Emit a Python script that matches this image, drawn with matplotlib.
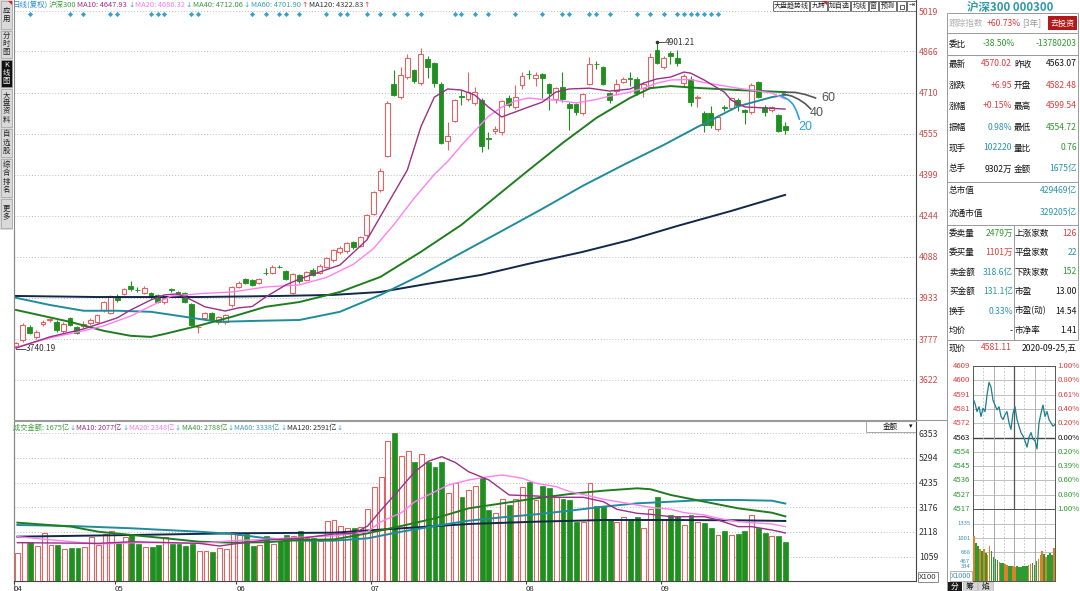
import numpy as np
import matplotlib
matplotlib.use('Agg')
import matplotlib.pyplot as plt
from matplotlib.patches import Rectangle, Polygon
from matplotlib import transforms

plt.rcParams['font.family'] = ['Liberation Sans Narrow', 'Noto Sans CJK SC', 'DejaVu Sans']
plt.rcParams['axes.unicode_minus'] = False

# ---------------- data (CSI 300 daily, 2020-04 .. 2020-09-25) ----------------
opens = [3752,3775,3823,3783,3835,3850,3842,3808,3857,3823,
         3828,3838,3842,3887,3876,3940,3948,3978,3964,3951,
         3951,3944,3917,3965,3955,3951,3910,3822,3857,3876,
         3842,3842,3906,3974,4004,4000,3989,4028,4027,4051,
         4035,3951,4019,4000,4040,4027,4050,4075,4105,4110,
         4145,4130,4170,4250,4340,4470,4743,4693,4769,4796,
         4746,4837,4822,4743,4527,4603,4697,4686,4671,4682,
         4538,4565,4561,4690,4656,4739,4782,4765,4780,4743,
         4686,4731,4667,4667,4633,4743,4819,4807,4710,4716,
         4752,4765,4760,4727,4731,4871,4808,4860,4843,4746,
         4762,4690,4633,4633,4572,4656,4652,4682,4644,4637,
         4750,4656,4644,4625,4582.48]
closes = [3760,3830,3800,3804,3841,3853,3811,3834,3830,3800,
          3834,3849,3868,3917,3940,3925,3966,3966,3962,3970,
          3936,3917,3932,3962,3944,3917,3830,3824,3876,3849,
          3861,3868,3974,3989,3989,3982,4004,4026,4050,4049,
          4004,4023,3995,4031,4019,4054,4084,4114,4122,4140,
          4125,4163,4247,4332,4414,4671,4701,4777,4841,4754,
          4856,4807,4746,4519,4546,4682,4693,4712,4712,4508,
          4536,4572,4678,4663,4693,4773,4780,4777,4765,4709,
          4727,4686,4652,4637,4705,4818,4817,4743,4682,4743,
          4760,4762,4708,4743,4845,4822,4843,4850,4822,4773,
          4674,4693,4587,4587,4618,4652,4690,4663,4637,4739,
          4693,4637,4656,4563.07,4570.02]
highs = [3766,3836,3830,3811,3848,3858,3848,3840,3862,3826,
         3845,3855,3872,3921,3944,3946,3972,3995,3975,3978,
         3955,3948,3940,3970,3960,3955,3912,3830,3880,3880,
         3866,3873,3978,3995,4008,4003,4008,4045,4058,4056,
         4038,4027,4025,4036,4045,4060,4088,4118,4128,4146,
         4150,4168,4250,4338,4425,4680,4796,4807,4856,4800,
         4878,4850,4826,4750,4599,4686,4720,4788,4730,4690,
         4560,4585,4682,4700,4739,4790,4795,4790,4786,4746,
         4731,4788,4675,4672,4709,4845,4830,4812,4714,4760,
         4770,4790,4770,4750,4860,4901.21,4850,4866,4870,4780,
         4775,4700,4640,4660,4625,4665,4695,4690,4650,4745,
         4755,4665,4660,4630,4599.54]
lows = [3740.19,3766,3795,3776,3828,3842,3805,3800,3825,3795,
        3820,3830,3838,3880,3872,3918,3944,3960,3955,3946,
        3930,3912,3910,3955,3940,3912,3825,3800,3850,3845,
        3832,3835,3900,3970,3984,3978,3985,4020,4022,4045,
        4000,3946,3990,3996,4015,4022,4045,4070,4098,4104,
        4118,4126,4165,4245,4335,4465,4697,4685,4760,4748,
        4740,4765,4730,4515,4493,4598,4663,4680,4665,4485,
        4495,4555,4550,4655,4650,4725,4760,4735,4690,4644,
        4670,4675,4568,4625,4625,4740,4800,4740,4670,4700,
        4745,4735,4700,4695,4728,4818,4800,4820,4810,4735,
        4660,4655,4560,4575,4565,4640,4645,4640,4590,4630,
        4690,4620,4635,4560,4554.72]
amounts = [1231,1702,1702,1517,2062,1560,1560,1376,1445,1430,
           1474,1890,1560,2032,2160,1633,1890,1989,1603,1474,
           1474,1560,1890,1603,1589,1517,1618,1303,1289,1246,
           1430,1388,2105,1989,2018,1517,1560,1946,1603,1747,
           1989,1946,2160,1848,1848,1747,2589,2632,2375,2276,
           2276,2319,3091,4034,4463,6019,6375,5376,5590,5132,
           5461,5132,4891,5132,3777,4231,3605,3918,4075,4419,
           3061,2946,3532,3275,3532,4034,4274,3490,4090,3991,
           3605,3532,3490,2560,2560,4205,3232,3232,2662,2560,
           2748,2662,2774,2276,3091,3605,2662,2847,2803,2418,
           2847,2532,2490,2303,1989,2160,1989,2018,2175,2847,
           2276,2062,1946,1946,1675]

month_labels = ['04', '05', '06', '07', '08', '09']
month_starts = [0, 15, 33, 53, 76, 96]

price_ticks = [5019, 4866, 4710, 4555, 4399, 4244, 4088, 3933, 3777, 3622]
amount_ticks = [6353, 5294, 4235, 3176, 2118, 1059]

ma10_idx = [0,5,10,15,17,20,22,24,26,28,31,33,35,37,40,42,48,52,55,58,60,62,64,66,68,70,72,74,76,78,80,82,85,88,91,93,95,97,99,100,102,105,106,108,111,114]
ma10_val = [3743,3785,3815,3857,3887,3925,3944,3948,3925,3899,3883,3895,3900,3936,3982,4004,4057,4152,4285,4417,4580,4693,4724,4720,4701,4656,4618,4637,4656,4674,4712,4724,4727,4716,4724,4746,4762,4769,4788,4784,4758,4712,4682,4656,4652,4647.93]
ma20_idx = [0,5,10,13,17,23,28,32,37,42,46,50,53,56,59,62,64,66,68,70,72,74,76,78,80,83,86,88,91,93,95,97,100,102,107,112,114]
ma20_val = [3745,3781,3808,3827,3864,3940,3950,3955,3974,3982,4010,4060,4120,4210,4310,4400,4450,4510,4565,4620,4655,4678,4690,4684,4682,4671,4684,4697,4712,4727,4746,4758,4760,4748,4727,4709,4686.32]
ma40_idx = [0,8,13,17,20,22,27,32,37,42,48,54,60,66,72,76,81,86,91,94,97,101,107,114]
ma40_val = [3887,3842,3808,3789,3785,3796,3827,3861,3899,3917,3955,4012,4107,4209,4334,4417,4519,4614,4690,4727,4735,4728,4720,4712.06]
ma60_idx = [0,5,10,15,20,24,30,36,42,48,54,60,66,72,78,84,90,96,101,107,112,114]
ma60_val = [3933,3906,3884,3884,3880,3865,3842,3846,3849,3880,3944,4019,4103,4186,4270,4357,4436,4512,4580,4658,4693,4701.90]
ma120_idx = [0,12,27,39,47,54,61,69,76,84,91,98,106,114]
ma120_val = [3940,3936,3936,3940,3944,3955,3986,4020,4062,4107,4152,4205,4262,4322.83]

proj60_idx = [114, 115.5, 117, 118.5]
proj60_val = [4712, 4711, 4703, 4690]
proj40_idx = [113.7, 115, 116, 117, 117.8]
proj40_val = [4705, 4697, 4685, 4668, 4648]
proj20_idx = [113.5, 114.5, 115.2, 115.7, 116.1]
proj20_val = [4697, 4683, 4665, 4640, 4610]

vma10_idx = [0,12,17,27,30,32,37,42,47,50,52,54,56,59,61,63,65,67,70,72,73,77,80,84,87,89,92,94,97,102,104,107,109,112,114]
vma10_val = [1660,1630,1700,1630,1517,1600,1775,1848,2032,2060,2375,3061,3704,4703,5150,5346,5100,4700,4347,3918,3704,3661,3605,3605,3417,3091,2919,2876,2774,2774,2632,2347,2347,2203,2077]
vma20_idx = [0,8,12,17,22,27,32,37,42,47,52,54,57,59,62,64,67,70,72,75,77,80,82,85,87,90,92,94,97,99,102,104,107,109,112,114]
vma20_val = [1918,1702,1603,1660,1660,1630,1746,1800,1890,1950,2131,2560,2946,3417,3847,4133,4347,4490,4561,4420,4205,4061,3847,3661,3519,3375,3275,3175,3091,2946,2847,2705,2560,2518,2461,2348]
vma40_idx = [0,8,12,17,22,27,32,37,42,47,52,57,62,67,72,77,82,87,92,94,97,102,107,112,114]
vma40_val = [2518,2347,2131,1989,1848,1702,1660,1680,1775,1800,2062,2375,2705,3133,3347,3562,3747,3889,3991,3950,3704,3417,3133,2946,2788]
vma60_idx = [0,8,17,27,32,37,42,47,52,57,62,67,72,77,82,87,92,97,102,107,112,114]
vma60_val = [2418,2375,2276,2131,2032,1848,1746,1746,1848,2131,2375,2603,2748,2876,3032,3204,3347,3417,3490,3490,3460,3338]
vma120_idx = [0,17,32,47,57,67,77,87,97,107,114]
vma120_val = [1918,1989,2062,2089,2276,2461,2560,2632,2632,2620,2591]

signal_idx = [2,8,10,14,15,20,21,22,26,27,35,37,39,40,42,46,48,49,52,54,56,58,60,65,66,68,70,74,78,81,82,85,86,88,92,94,96,98,99,100,101,102,103,104]

intraday_price = [4587.9,4584.8,4579.6,4582.7,4576.5,4581.7,4579.6,4590.0,4598.3,4595.2,
                  4586.9,4583.8,4580.7,4582.7,4576.5,4574.5,4577.6,4579.6,4572.4,4568.2,
                  4578.6,4582.7,4574.5,4570.3,4566.2,4564.1,4561.0,4556.9,4563.1,4566.2,
                  4562.0,4561.0,4555.8,4572.4,4578.6,4583.8,4576.5,4579.6,4574.5,4572.4,
                  4570.3,4571.4]
intraday_vol = [1050,880,820,760,700,760,650,600,820,700,560,520,480,450,430,420,400,380,360,350,
                340,330,340,320,330,350,360,340,380,400,420,380,460,520,600,700,640,560,600,650,620,780]
prev_close = 4563.07
mini_left_labels = ['4609','4600','4591','4581','4572','4563','4554','4545','4536','4527','4517']
mini_right_labels = ['1.00%','0.80%','0.61%','0.40%','0.20%','0.00%','0.20%','0.39%','0.60%','0.80%','1.00%']
mini_vol_ticks = [1335, 1001, 668, 467, 334]

RED = '#e03c3c'; GREEN = '#2e9a2e'; TEAL = '#2a95a8'; BLACK = '#111111'
info_rows = [('最新', '4570.02', RED, '昨收', '4563.07', BLACK),
             ('涨跌', '+6.95', RED, '开盘', '4582.48', RED),
             ('涨幅', '+0.15%', RED, '最高', '4599.54', RED),
             ('振幅', '0.98%', TEAL, '最低', '4554.72', GREEN),
             ('现手', '102220', TEAL, '量比', '0.76', GREEN),
             ('总手', '9302万', BLACK, '金额', '1675亿', TEAL)]
cap_rows = [('总市值', '429469亿'), ('流通市值', '329205亿')]
sec2_rows = [('委卖量', '2479万', GREEN, '上涨家数', '126', RED),
             ('委买量', '1101万', RED, '平盘家数', '22', TEAL),
             ('卖金额', '318.6亿', TEAL, '下跌家数', '152', GREEN),
             ('买金额', '131.1亿', TEAL, '市盈', '13.00', BLACK),
             ('换手', '0.33%', TEAL, '市盈(动)', '14.54', BLACK),
             ('均价', '-', BLACK, '市净率', '1.41', BLACK)]

# ---------------- figure ----------------
W, H = 1080, 591
fig = plt.figure(figsize=(W / 100, H / 100), dpi=100)
fig.patch.set_facecolor('white')
renderer = fig.canvas.get_renderer()

bg = fig.add_axes([0, 0, 1, 1], zorder=-1)
bg.set_xlim(0, W); bg.set_ylim(H, 0); bg.axis('off')


def T(x, y, s, **kw):
    kw.setdefault('fontsize', 6.2); kw.setdefault('va', 'center'); kw.setdefault('color', BLACK)
    return bg.text(x, y, s, **kw)


def seq(x, y, parts, fontsize, gap=1.0):
    for s, col, fam in parts:
        kw = dict(color=col, fontsize=fontsize)
        if fam:
            kw['family'] = fam
        t = T(x, y, s, **kw)
        x += t.get_window_extent(renderer).width + gap
    return x


def L(x0, y0, x1, y1, **kw):
    kw.setdefault('color', '#8a8a8a'); kw.setdefault('lw', 0.8)
    bg.plot([x0, x1], [y0, y1], solid_capstyle='butt', **kw)


def R(x0, y0, x1, y1, **kw):
    bg.add_patch(Rectangle((x0, y0), x1 - x0, y1 - y0, **kw))


def ax_px(x0, y0, x1, y1):
    a = fig.add_axes([x0 / W, 1 - y1 / H, (x1 - x0) / W, (y1 - y0) / H])
    a.set_facecolor('none')
    return a


UPC = '#e06464'; DNC = '#1f8f1f'
C10 = '#9b2f8a'; C20 = '#ff80f2'; C40 = '#1f7d1f'; C60 = '#1f8c9c'; C120 = '#10284a'

n = len(closes)
xi = np.arange(n)
o = np.array(opens, float); c = np.array(closes, float)
h = np.array(highs, float); l = np.array(lows, float)
up = c >= o
blo = np.minimum(o, c); bhi = np.maximum(o, c)
cols = np.where(up, UPC, DNC)

# ---- main price panel ----
ax = ax_px(14, 0, 916, 419)
ax.set_xlim(-0.3, 133.4)
ax.set_ylim(3474, 5061)
ax.vlines(xi, l, blo, colors=cols, lw=0.8, zorder=3)
ax.vlines(xi, bhi, h, colors=cols, lw=0.8, zorder=3)
ax.bar(xi[up], (bhi - blo)[up], bottom=blo[up], width=0.72, fc='white', ec=UPC, lw=0.8, zorder=3)
ax.bar(xi[~up], np.maximum((bhi - blo)[~up], 1.0), bottom=blo[~up], width=0.72, fc=DNC, ec=DNC, lw=0.6, zorder=3)

ax.plot(ma120_idx, ma120_val, color=C120, lw=1.4, zorder=4)
ax.plot(ma60_idx, ma60_val, color=C60, lw=1.4, zorder=4)
ax.plot(ma40_idx, ma40_val, color=C40, lw=1.4, zorder=4)
ax.plot(ma20_idx, ma20_val, color=C20, lw=1.0, zorder=4)
ax.plot(ma10_idx, ma10_val, color=C10, lw=1.0, zorder=4)

ax.plot(proj60_idx, proj60_val, color='#555555', lw=1.2, zorder=4)
ax.plot(proj40_idx, proj40_val, color='#555555', lw=1.2, zorder=4)
ax.plot(proj20_idx, proj20_val, color='#2a9fe6', lw=1.2, zorder=4)
ax.text(proj60_idx[-1] + 0.8, proj60_val[-1], '60', fontsize=9, color='#555555', va='center',
        family=['Liberation Sans', 'DejaVu Sans'])
ax.text(proj40_idx[-1] - 0.2, proj40_val[-1] - 14, '40', fontsize=9, color='#555555', va='center',
        family=['Liberation Sans', 'DejaVu Sans'])
ax.text(proj20_idx[-1] - 0.2, proj20_val[-1] - 30, '20', fontsize=9, color='#2a9fe6', va='center',
        family=['Liberation Sans', 'DejaVu Sans'])

imax = int(np.argmax(h)); imin = int(np.argmin(l))
ax.plot([imax, imax + 1.0], [h[imax], h[imax]], color='#333333', lw=0.6, zorder=5)
ax.plot([imax], [h[imax]], marker='o', ms=1.6, color='#333333', zorder=5)
ax.text(imax + 1.1, h[imax], f'{h[imax]:.2f}', fontsize=6, color='#333333', va='center')
ax.plot([imin, imin + 1.3], [l[imin], l[imin]], color='#333333', lw=0.6, zorder=5)
ax.text(imin + 1.4, l[imin], f'{l[imin]:.2f}', fontsize=6, color='#333333', va='center')

blend = transforms.blended_transform_factory(ax.transData, ax.transAxes)
ax.scatter(signal_idx, [1 - 14 / 419] * len(signal_idx), transform=blend, marker='D', s=7,
           color='#3aa0cc', zorder=5, clip_on=False, linewidths=0)

ax.set_xticks([])
ax.yaxis.tick_right()
ax.set_yticks(price_ticks)
ax.set_yticklabels([str(t) for t in price_ticks])
ax.tick_params(axis='y', length=0, pad=2, labelsize=6.3, labelcolor='#c84c48')
ax.grid(axis='y', ls=(0, (1, 2)), color='#bcbcbc', lw=0.7)
ax.set_axisbelow(True)
for s in ['top', 'bottom']:
    ax.spines[s].set_visible(False)
ax.spines['left'].set_color('#8a8a8a')
ax.spines['right'].set_color('#444444')

# ---- amount panel ----
ax2 = ax_px(14, 421, 916, 581.4)
ax2.set_xlim(-0.3, 133.4)
ax2.set_ylim(0, 6876)
a = np.array(amounts, float)
ax2.bar(xi[up], a[up], width=0.72, fc='white', ec=UPC, lw=0.8, zorder=3)
ax2.bar(xi[~up], a[~up], width=0.72, fc=DNC, ec=DNC, lw=0.5, zorder=3)
ax2.plot(vma120_idx, vma120_val, color=C120, lw=1.4, zorder=4)
ax2.plot(vma60_idx, vma60_val, color=C60, lw=1.4, zorder=4)
ax2.plot(vma40_idx, vma40_val, color=C40, lw=1.4, zorder=4)
ax2.plot(vma20_idx, vma20_val, color=C20, lw=1.0, zorder=4)
ax2.plot(vma10_idx, vma10_val, color=C10, lw=1.0, zorder=4)
ax2.yaxis.tick_right()
ax2.set_yticks(amount_ticks)
ax2.set_yticklabels([str(t) for t in amount_ticks])
ax2.tick_params(axis='y', length=0, pad=2, labelsize=6.3, labelcolor='#333333')
ax2.set_xticks(np.array(month_starts) - 0.5)
ax2.set_xticklabels(month_labels)
for lab in ax2.get_xticklabels():
    lab.set_ha('left')
ax2.tick_params(axis='x', length=2, pad=0.5, labelsize=5.6, color='#444444', labelcolor='#222222')
ax2.grid(axis='y', ls=(0, (1, 2)), color='#bcbcbc', lw=0.7)
ax2.set_axisbelow(True)
ax2.spines['top'].set_color('#9a9a9a')
ax2.spines['left'].set_color('#8a8a8a')
ax2.spines['right'].set_color('#444444')
ax2.spines['bottom'].set_color('#444444')

# ---- legends ----
DV = ['DejaVu Sans']
seq(13, 5, [('日线(复权)', '#2a8ad4', None), ('沪深300', '#3d9b3d', None),
            (f'MA10: {ma10_val[-1]:.2f}', C10, None), ('↓', '#39a7c8', DV),
            (f'MA20: {ma20_val[-1]:.2f}', '#f07ef0', None), ('↓', '#39a7c8', DV),
            (f'MA40: {ma40_val[-1]:.2f}', '#3b9b3b', None), ('↓', '#39a7c8', DV),
            (f'MA60: {ma60_val[-1]:.2f}', '#3f9fb0', None), ('↑', '#e04040', DV),
            (f'MA120: {ma120_val[-1]:.2f}', '#333333', None), ('↑', '#e04040', DV)], 5.4, gap=0.8)
seq(13, 428, [(f'成交金额: {amounts[-1]}亿', '#3d9b3d', None), ('↓', '#39a7c8', DV),
              (f'MA10: {vma10_val[-1]}亿', C10, None), ('↓', '#39a7c8', DV),
              (f'MA20: {vma20_val[-1]}亿', '#f07ef0', None), ('↓', '#39a7c8', DV),
              (f'MA40: {vma40_val[-1]}亿', '#3b9b3b', None), ('↓', '#39a7c8', DV),
              (f'MA60: {vma60_val[-1]}亿', '#3f9fb0', None), ('↓', '#39a7c8', DV),
              (f'MA120: {vma120_val[-1]}亿', '#333333', None), ('↓', '#39a7c8', DV)], 5.2, gap=0.6)

R(866, 421, 916, 432, fc='white', ec='#9a9a9a', lw=0.6)
T(890, 426.5, '金额', fontsize=5.4, ha='center')
T(911, 426.5, '▾', fontsize=5, ha='center', family=DV)
T(919, 577, 'X100', fontsize=5.6, color='#333333',
  bbox=dict(boxstyle='square,pad=0.15', fc='white', ec='#777777', lw=0.6))

# ---- top-right buttons ----
buttons = [('大盘趋势线', 773, 809), ('九转', 810, 827), ('加自选', 828, 850), ('均线', 851, 868),
           ('窗', 869, 878), ('预测', 879, 896), ('', 897, 906), ('⇥', 907, 916)]
for lab, x0, x1 in buttons:
    R(x0, 0.5, x1, 11, fc='white', ec='#555555', lw=0.6)
    if lab:
        T((x0 + x1) / 2, 6, lab, fontsize=5, ha='center', color='#222222')
bg.add_patch(Polygon([(822, 0.5), (827, 0.5), (827, 5)], closed=True, fc='#e02020', ec='none'))
R(899.5, 5, 903.5, 9, fc='none', ec='#444444', lw=0.6)

# ---- left sidebar ----
R(0, 0, 12.5, 230, fc='#d9d9d9', ec='none')
tabs = [('应用', 0, 29, '#d9d9d9', '#111111'), ('分时图', 30, 58, '#d9d9d9', '#222222'),
        ('K线图', 59, 87, '#111111', '#ffffff'), ('大盘资料', 88, 127, '#d9d9d9', '#222222'),
        ('自选股', 128, 157, '#d9d9d9', '#222222'), ('综合排名', 158, 197, '#d9d9d9', '#222222'),
        ('更多', 198, 228, '#d9d9d9', '#222222')]
for lab, y0, y1, fc, tc in tabs:
    R(0.5, y0 + 0.5, 12, y1, fc=fc, ec='#a0a0a0', lw=0.5)
    T(6.3, (y0 + y1) / 2, '\n'.join(lab), fontsize=5.3, ha='center', color=tc, linespacing=1.05)
bg.add_patch(Polygon([(8, 0.5), (12, 0.5), (12, 4.5)], closed=True, fc='#e02020', ec='none'))
L(13.5, 230, 13.5, 591, color='#8a8a8a')
L(14, 420, 947, 420, color='#9a9a9a')

# ---- right info panel ----
T(1010, 7, '沪深300 000300', ha='center', color='#2f9aaa', fontsize=8.3, fontweight='bold')
for yy in [13, 33, 55, 182, 225, 340]:
    L(947, yy, 1078, yy, color='#9a9a9a', lw=0.7)
L(947, 13, 947, 591, color='#9a9a9a', lw=0.7)
L(1078, 13, 1078, 340, color='#9a9a9a', lw=0.7)
L(1014, 225, 1014, 340, color='#9a9a9a', lw=0.7)

T(949, 23, '跟踪指数', color='#b0b0b0')
T(987, 23, '+60.73%', color=RED)
T(1022, 23, '[3年]', color='#999999')
R(1048, 16, 1077, 30, fc='#b51818', ec='none')
T(1062.5, 23, '去投资', color='white', ha='center', fontsize=5.8)
T(949, 44, '委比')
T(983, 44, '-38.50%', color=GREEN)
T(1077, 44, '-13780203', color=GREEN, ha='right')
for k, (l1, v1, c1, l2, v2, c2) in enumerate(info_rows):
    yy = 64 + 21 * k
    T(949, yy, l1); T(1012, yy, v1, color=c1, ha='right')
    T(1014, yy, l2); T(1077, yy, v2, color=c2, ha='right')
for k, (l1, v1) in enumerate(cap_rows):
    yy = 191 + 22 * k
    T(949, yy, l1); T(1077, yy, v1, color=TEAL, ha='right')
for k, (l1, v1, c1, l2, v2, c2) in enumerate(sec2_rows):
    yy = 233 + 19.5 * k
    T(949, yy, l1); T(1013, yy, v1, color=c1, ha='right')
    T(1015, yy, l2); T(1077, yy, v2, color=c2, ha='right')
T(949, 348, '现价')
T(1012, 348, '4581.11', color=RED, ha='right')
T(1077, 348, '2020-09-25,五', ha='right')

# ---- mini intraday chart ----
lo, hi = prev_close * 0.99, prev_close * 1.01
mp = ax_px(973, 366, 1055, 509)
m = len(intraday_price)
mp.set_xlim(0, m - 1); mp.set_ylim(lo, hi)
levels = np.linspace(hi, lo, 11)
for k, lv in enumerate(levels):
    mp.axhline(lv, color='#444444' if k == 5 else '#b5b5b5', lw=1.0 if k == 5 else 0.6, zorder=1)
bl = transforms.blended_transform_factory(mp.transAxes, mp.transData)
for k, lv in enumerate(levels):
    col = RED if k < 5 else (BLACK if k == 5 else GREEN)
    mp.text(-0.03, lv, mini_left_labels[k], transform=bl, ha='right', va='center', fontsize=5.6, color=col)
    mp.text(1.03, lv, mini_right_labels[k], transform=bl, ha='left', va='center', fontsize=5.6, color=col)
for k in range(1, 8):
    if k % 2:
        mp.axvline((m - 1) * k / 8, color='#c0c0c0', lw=0.6, ls=(0, (2, 2)), zorder=1)
    else:
        mp.axvline((m - 1) * k / 8, color='#555555' if k == 4 else '#b0b0b0', lw=0.9 if k == 4 else 0.7, zorder=1)
mp.plot(np.arange(m), intraday_price, color='#1b7f8e', lw=0.9, zorder=3)
mp.set_xticks([]); mp.set_yticks([])
for s in mp.spines.values():
    s.set_color('#555555'); s.set_linewidth(0.7)

mv = ax_px(973, 509, 1055, 581)
mv.set_xlim(-0.5, m - 0.5); mv.set_ylim(0, 1685)
pr = np.array(intraday_price)
vcols = ['#d9822b' if (k == 0 or pr[k] >= pr[k - 1]) else '#2f9a2f' for k in range(m)]
mv.bar(np.arange(m), intraday_vol, width=0.85, color=vcols, zorder=3)
for t in mini_vol_ticks[:3]:
    mv.axhline(t, color='#b5b5b5', lw=0.6, zorder=1)
for t in mini_vol_ticks:
    mv.text(-0.03, t, str(t), transform=transforms.blended_transform_factory(mv.transAxes, mv.transData),
            ha='right', va='center', fontsize=4.3, color='#3a8fc0')
for k in range(1, 8):
    mv.axvline(-0.5 + m * k / 8, color='#c0c0c0' if k % 2 else '#9a9a9a', lw=0.6,
               ls=(0, (2, 2)) if k % 2 else '-', zorder=1)
mv.set_xticks([]); mv.set_yticks([])
for s in mv.spines.values():
    s.set_color('#555555'); s.set_linewidth(0.7)
T(951, 576, 'X1000', fontsize=5.2, color='#3a8fc0',
  bbox=dict(boxstyle='square,pad=0.1', fc='white', ec='#9a9a9a', lw=0.5))

# bottom tabs
R(948, 581.5, 962, 591, fc='#1a1a1a', ec='none')
T(955, 586.5, '分', color='white', ha='center', fontsize=5.6)
R(963, 581.5, 977, 591, fc='#d6d6d6', ec='#aaaaaa', lw=0.4)
T(970, 586.5, '筹', ha='center', fontsize=5.6)
R(978, 581.5, 993, 591, fc='#d6d6d6', ec='#aaaaaa', lw=0.4)
T(985.5, 586.5, '焰', ha='center', fontsize=5.6)

fig.savefig('out.png', dpi=100, facecolor='white')
